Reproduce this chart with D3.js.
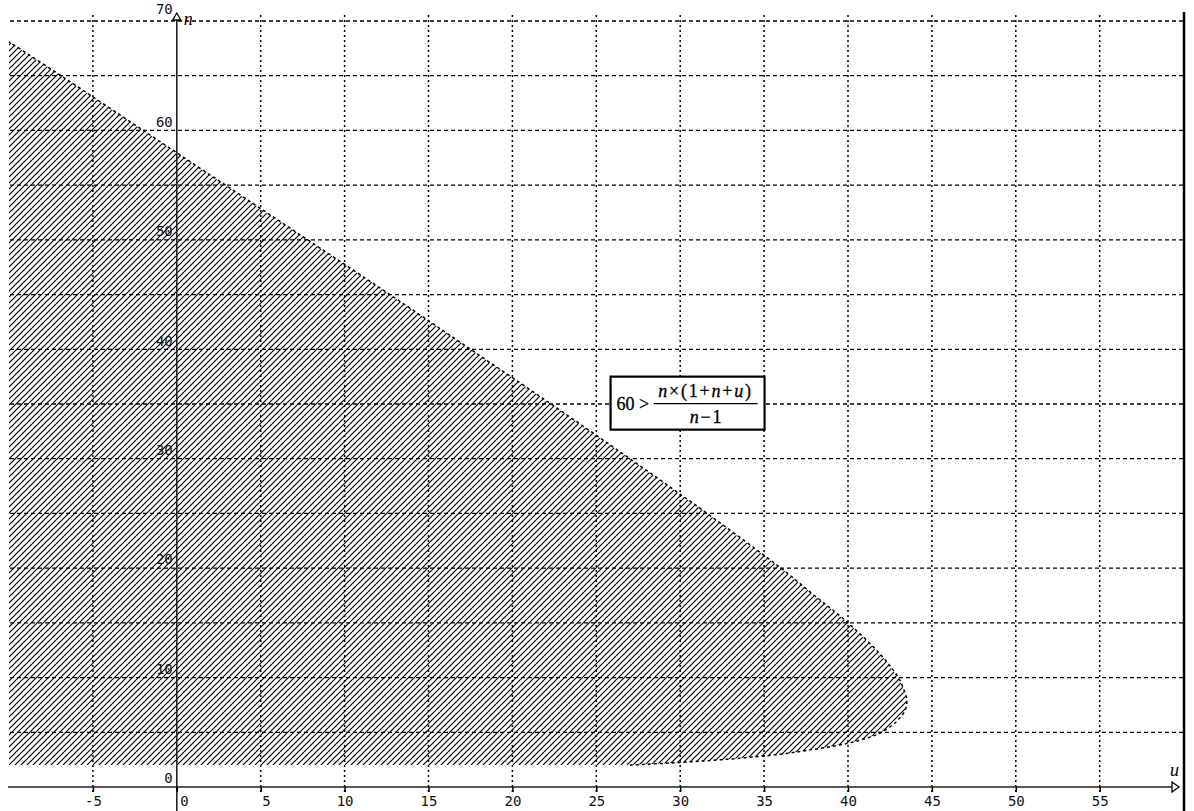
<!DOCTYPE html>
<html>
<head>
<meta charset="utf-8">
<script src="https://cdn.jsdelivr.net/npm/d3@7"></script>
<style>
  body { margin: 0; background: #fff; }
  svg { display: block; }
  .tick text { font-family: "DejaVu Sans Mono", monospace; font-size: 14px; fill: #111; }
</style>
</head>
<body>
<div id="chart"></div>
<script>
// axis ticks
const xTicks = [-5, 0, 5, 10, 15, 20, 25, 30, 35, 40, 45, 50, 55]
const yTicks = [0, 10, 20, 30, 40, 50, 60, 70]
const xGrid = [-5, 5, 10, 15, 20, 25, 30, 35, 40, 45, 50, 55]
const yGrid = [5, 10, 15, 20, 25, 30, 35, 40, 45, 50, 55, 60, 65, 70]

// boundary of 60 > n(1+n+u)/(n-1) as [u, n]
const boundU = [27, 29.5, 32.5, 36, 38.2, 40, 41.2, 42, 42.9, 43.4, 43.5, 43.3, 43, 42, 40, 38, 36, 31.6, 27, 22.3, 17.5, 12.7, 7.8, 2.9, -2, -6.9, -10]
const boundN = [2, 2.2, 2.5, 3, 3.5, 4, 4.5, 5, 6, 7, 8, 9, 10, 12, 15, 17.5, 20, 25, 30, 35, 40, 45, 50, 55, 60, 65, 68.1]
const bottomN = 2
const leftU = -10

const width = 1194, height = 811

const svg = d3.select('#chart').append('svg')
  .attr('width', width)
  .attr('height', height)

const x = d3.scaleLinear().domain([-10, 60]).range([9, 1183.6])
const y = d3.scaleLinear().domain([0, 70]).range([787, 21])

// hatch pattern
const pat = svg.append('defs').append('pattern')
  .attr('id', 'hatch')
  .attr('patternUnits', 'userSpaceOnUse')
  .attr('width', 6)
  .attr('height', 6)
pat.append('path')
  .attr('d', 'M0,6 L6,0 M-1,1 L1,-1 M5,7 L7,5')
  .attr('stroke', '#000')
  .attr('stroke-width', 1.2)

// grid
svg.append('g').selectAll('line')
  .data(yGrid)
  .join('line')
  .attr('x1', 10).attr('x2', 1184)
  .attr('y1', d => y(d)).attr('y2', d => y(d))
  .attr('stroke', '#000')
  .attr('stroke-width', 1.3)
  .attr('stroke-dasharray', '4,3')

svg.append('g').selectAll('line')
  .data(xGrid)
  .join('line')
  .attr('x1', d => x(d)).attr('x2', d => x(d))
  .attr('y1', 15).attr('y2', 792)
  .attr('stroke', '#000')
  .attr('stroke-width', 1.5)
  .attr('stroke-dasharray', '2,3')

// hatched region
const pts = boundU.map((u, i) => [u, boundN[i]])
const region = [[leftU, bottomN], ...pts, [leftU, boundN[boundN.length - 1]]]
svg.append('path')
  .attr('d', d3.line().x(d => x(d[0])).y(d => y(d[1])).curve(d3.curveLinear)(region))
  .attr('fill', 'url(#hatch)')
  .attr('stroke', 'none')

svg.append('path')
  .attr('d', d3.line().x(d => x(d[0])).y(d => y(d[1])).curve(d3.curveCatmullRom)(pts))
  .attr('fill', 'none')
  .attr('stroke', '#000')
  .attr('stroke-width', 1.5)
  .attr('stroke-dasharray', '3,3')

// axes lines
svg.append('line')
  .attr('x1', 8).attr('x2', 1176)
  .attr('y1', y(0)).attr('y2', y(0))
  .attr('stroke', '#222').attr('stroke-width', 1.6)
svg.append('path')
  .attr('d', `M1172,${y(0) - 5}L1179,${y(0)}L1172,${y(0) + 5}Z`)
  .attr('fill', '#fff').attr('stroke', '#000').attr('stroke-width', 1.3)

svg.append('line')
  .attr('x1', x(0)).attr('x2', x(0))
  .attr('y1', 20).attr('y2', height)
  .attr('stroke', '#222').attr('stroke-width', 1.6)
svg.append('path')
  .attr('d', `M${x(0) - 4},20L${x(0)},13L${x(0) + 4},20Z`)
  .attr('fill', '#fff').attr('stroke', '#000').attr('stroke-width', 1.3)

// right border
svg.append('line')
  .attr('x1', 1184).attr('x2', 1184)
  .attr('y1', 12).attr('y2', height)
  .attr('stroke', '#000').attr('stroke-width', 2.5)

// x axis ticks
const xAxis = svg.append('g')
  .attr('transform', `translate(0,${y(0)})`)
  .call(d3.axisBottom(x).tickValues(xTicks).tickSize(5).tickPadding(4).tickFormat(d => d < 0 ? '-' + (-d) : d))
xAxis.select('.domain').remove()
xAxis.selectAll('.tick line').attr('stroke', '#000').attr('stroke-width', 1.5)
xAxis.selectAll('.tick text')
  .attr('text-anchor', d => d === 0 || d === 5 ? 'start' : 'middle')
  .attr('dx', d => d === 0 ? 3 : d === 5 ? 1 : 0)

// y axis labels
const yAxis = svg.append('g')
  .attr('transform', `translate(${x(0)},0)`)
  .call(d3.axisLeft(y).tickValues(yTicks).tickSize(0).tickPadding(4))
yAxis.select('.domain').remove()
yAxis.selectAll('.tick text')
  .attr('dy', d => d === 70 ? '-0.55em' : '-0.3em')

// axis names
svg.append('text')
  .attr('x', 1170).attr('y', 776)
  .attr('font-family', 'Liberation Serif, serif')
  .attr('font-style', 'italic')
  .attr('font-size', 18)
  .text('u')
svg.append('text')
  .attr('x', x(0) + 7).attr('y', 25)
  .attr('font-family', 'Liberation Serif, serif')
  .attr('font-style', 'italic')
  .attr('font-size', 18)
  .text('n')

// formula box
const bx = x(25.85), by = y(37.5)
const box = svg.append('g').attr('transform', `translate(${bx},${by})`)
box.append('rect')
  .attr('width', 154).attr('height', 53)
  .attr('fill', '#fff').attr('stroke', '#000').attr('stroke-width', 2.2)
const serif = '"Liberation Serif", "Times New Roman", serif'
box.append('text')
  .attr('x', 6).attr('y', 33)
  .attr('font-family', serif).attr('font-size', 18)
  .attr('stroke', '#000').attr('stroke-width', 0.3)
  .text('60 >')
const num = box.append('text')
  .attr('x', 95).attr('y', 20)
  .attr('text-anchor', 'middle')
  .attr('font-family', serif).attr('font-size', 18)
  .attr('letter-spacing', 1.8)
  .attr('stroke', '#000').attr('stroke-width', 0.3)
num.append('tspan').attr('font-style', 'italic').text('n')
num.append('tspan').text('×(1+')
num.append('tspan').attr('font-style', 'italic').text('n')
num.append('tspan').text('+')
num.append('tspan').attr('font-style', 'italic').text('u')
num.append('tspan').text(')')
box.append('line')
  .attr('x1', 43).attr('x2', 147)
  .attr('y1', 27).attr('y2', 27)
  .attr('stroke', '#000').attr('stroke-width', 1.3)
const den = box.append('text')
  .attr('x', 96).attr('y', 46)
  .attr('text-anchor', 'middle')
  .attr('font-family', serif).attr('font-size', 18)
  .attr('letter-spacing', 1.8)
  .attr('stroke', '#000').attr('stroke-width', 0.3)
den.append('tspan').attr('font-style', 'italic').text('n')
den.append('tspan').text('−1')
</script>
</body>
</html>
